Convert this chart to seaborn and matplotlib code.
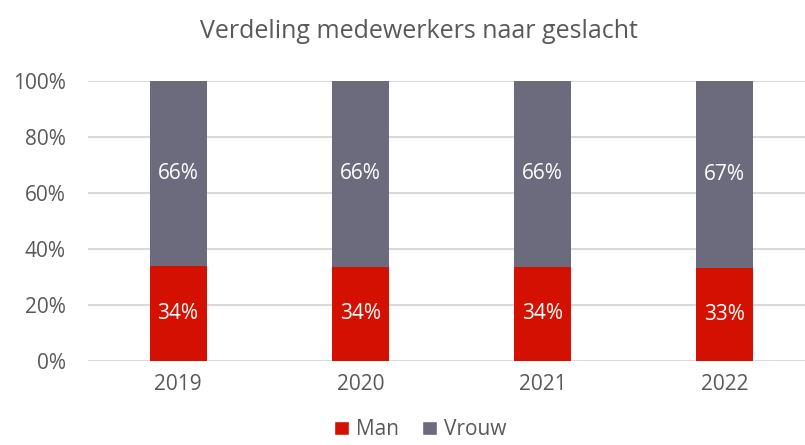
import numpy as np
import pandas as pd
import matplotlib
matplotlib.use('Agg')
import matplotlib.pyplot as plt
import seaborn as sns
from matplotlib.patches import Patch

# Data (share of employees, %)
years = ['2019', '2020', '2021', '2022']
man = [34.0, 33.7, 33.6, 33.2]
vrouw = [100 - m for m in man]
man_labels = ['34%', '34%', '34%', '33%']
vrouw_labels = ['66%', '66%', '66%', '67%']

title = 'Verdeling medewerkers naar geslacht'
red = '#d41100'
grey = '#6c6a7d'
text_grey = '#595959'

sns.set_theme(style='white')
plt.rcParams['font.family'] = ['Open Sans', 'DejaVu Sans']

df = pd.DataFrame({'jaar': years, 'man': man, 'vrouw': vrouw})
df['totaal'] = df['man'] + df['vrouw']

fig = plt.figure(figsize=(8.05, 4.45), dpi=100)
ax = fig.add_axes([88 / 805, 1 - 361 / 445, 1 - 88 / 805, 280 / 445])

# stacked bars: full bar in grey, man part drawn on top
sns.barplot(data=df, x='jaar', y='totaal', color=grey, width=0.313,
            saturation=1, linewidth=0, edgecolor='none', ax=ax, zorder=2)
sns.barplot(data=df, x='jaar', y='man', color=red, width=0.313,
            saturation=1, linewidth=0, edgecolor='none', ax=ax, zorder=3)

for i in range(len(years)):
    ax.text(i, man[i] / 2, man_labels[i], ha='center', va='center',
            color='white', fontsize=15, zorder=4)
    ax.text(i, man[i] + vrouw[i] / 2, vrouw_labels[i], ha='center',
            va='center', color='white', fontsize=15, zorder=4)

ax.set_ylim(0, 100)
ax.set_xlim(-0.494, 3.44)
ax.set_yticks(np.arange(0, 101, 20))
ax.set_yticklabels([f'{v}%' for v in range(0, 101, 20)])
ax.yaxis.grid(True, color='#d9d9d9', linewidth=1.5, zorder=0)
ax.set_axisbelow(True)
for s in ax.spines.values():
    s.set_visible(False)
ax.set_xlabel('')
ax.set_ylabel('')
ax.tick_params(axis='y', length=0, pad=16, labelsize=15, labelcolor=text_grey)
ax.tick_params(axis='x', length=0, pad=9, labelsize=15, labelcolor=text_grey)

fig.text(0.52, 0.93, title, ha='center', va='center', fontsize=18,
         color=text_grey)

handles = [Patch(facecolor=red, label='Man'), Patch(facecolor=grey, label='Vrouw')]
leg = fig.legend(handles=handles, loc='lower center', bbox_to_anchor=(0.522, -0.032),
                 ncol=2, frameon=False, fontsize=15, handlelength=0.7,
                 handleheight=0.7, handletextpad=0.35, columnspacing=1.1)
for t in leg.get_texts():
    t.set_color(text_grey)

fig.savefig('out.png', dpi=100)
